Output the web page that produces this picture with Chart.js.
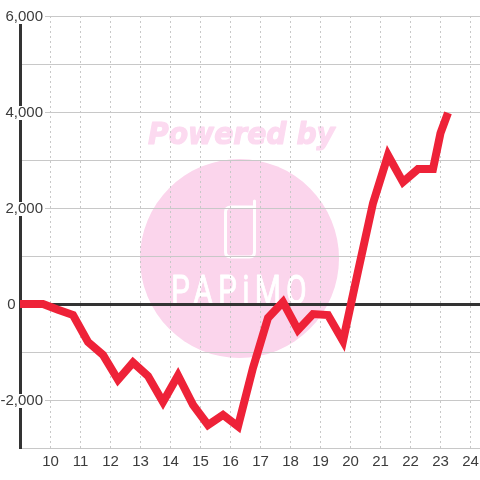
<!DOCTYPE html>
<html><head><meta charset="utf-8">
<style>html,body{margin:0;padding:0;background:#fff}#w{width:480px;height:480px}</style>
<script src="https://cdn.jsdelivr.net/npm/chart.js@4"></script>
</head><body><div id="w"><canvas id="c" width="480" height="480"></canvas></div>
<script>
const hours = [8.75,9.25,9.75,10.25,10.75,11.25,11.75,12.25,12.75,13.25,13.75,14.25,14.75,15.25,15.75,16.25,16.75,17.25,17.75,18.25,18.75,19.25,19.75,20.25,20.75,21.25,21.75,22.25,22.75,23,23.25];
const values = [0,0,0,-120,-230,-790,-1060,-1580,-1220,-1500,-2040,-1490,-2100,-2520,-2310,-2550,-1330,-290,40,-540,-210,-230,-770,680,2100,3100,2540,2810,2810,3560,3980];
const watermarkTitle = 'Powered by';
const watermarkBrand = 'PAPiMO';

const watermark = {
  id: 'watermark',
  beforeDraw(chart) {
    const c = chart.ctx;
    c.save();
    c.fillStyle = '#fbd5ec';
    c.beginPath(); c.arc(239.5, 258.5, 99.5, 0, Math.PI * 2); c.fill();
    c.font = 'italic bold 30px "DejaVu Sans"';
    c.textAlign = 'left'; c.textBaseline = 'alphabetic';
    c.fillStyle = '#fcdaf0';
    c.strokeStyle = '#fcdaf0'; c.lineWidth = 1.2; c.lineJoin = 'round';
    const w = c.measureText(watermarkTitle).width;
    c.save(); c.translate(148, 144); c.scale(187 / w, 1); c.fillText(watermarkTitle, 0, 0); c.strokeText(watermarkTitle, 0, 0); c.restore();
    c.strokeStyle = '#ffffff'; c.lineWidth = 3; c.lineJoin = 'round'; c.lineCap = 'round';
    c.beginPath();
    c.moveTo(254.5, 201);
    c.lineTo(254.5, 252);
    c.quadraticCurveTo(254.5, 257, 249.5, 257);
    c.lineTo(231, 257);
    c.quadraticCurveTo(225.5, 257, 225.5, 252);
    c.lineTo(225.5, 212);
    c.quadraticCurveTo(225.5, 207, 231, 207);
    c.lineTo(254, 207);
    c.stroke();
    c.fillStyle = '#ffffff';
    c.strokeStyle = '#ffffff'; c.lineWidth = 0.8;
    c.font = '400 40px Roboto';
    try { c.letterSpacing = '7px'; } catch (e) {}
    const bw = c.measureText(watermarkBrand).width;
    c.save(); c.translate(171, 304); c.scale(141 / bw, 1); c.fillText(watermarkBrand, 0, 0); c.strokeText(watermarkBrand, 0, 0); c.restore();
    c.restore();
  }
};

new Chart(document.getElementById('c'), {
  type: 'line',
  plugins: [watermark],
  data: { datasets: [{
    data: hours.map((h, i) => ({ x: h, y: values[i] })),
    borderColor: '#ee2238',
    borderWidth: 8,
    tension: 0,
    pointRadius: 0,
    fill: false,
    borderJoinStyle: 'miter'
  }]},
  options: {
    responsive: false,
    animation: false,
    layout: { padding: { top: 16, left: 0, right: 0, bottom: 0 } },
    plugins: { legend: { display: false }, tooltip: { enabled: false } },
    scales: {
      x: {
        type: 'linear',
        min: 8.983,
        max: 24.317,
        afterFit(s) { s.height = 32; s.paddingRight = 0; s.paddingLeft = 0; },
        grid: {
          drawTicks: false,
          color: ctx => ctx.tick && ctx.tick.value === 9 ? 'transparent' : '#c8c8c8',
          lineWidth: 1,
        },
        border: { display: false, dash: [2, 3] },
        ticks: {
          stepSize: 1,
          includeBounds: false,
          autoSkip: false,
          maxRotation: 0,
          padding: 5,
          color: '#3c3c3c',
          font: { family: '"Liberation Sans"', size: 15 },
          callback: v => v === 9 ? '' : String(v)
        }
      },
      y: {
        min: -3000,
        max: 6000,
        afterFit(s) { s.width = 20; s._computeLabelArea = () => undefined; },
        border: { color: '#333', width: 3 },
        grid: {
          drawTicks: false,
          color: ctx => ctx.tick && ctx.tick.value === 0 ? '#333' : '#c8c8c8',
          lineWidth: ctx => ctx.tick && ctx.tick.value === 0 ? 3 : 1,
        },
        ticks: {
          stepSize: 1000,
          autoSkip: false,
          padding: -23,
          labelOffset: 1,
          color: '#3c3c3c',
          font: { family: '"Liberation Sans"', size: 15, lineHeight: 14 / 15 },
          showLabelBackdrop: true,
          backdropPadding: { left: 2, right: 2, top: 0, bottom: 0 },
          backdropColor: ctx => (ctx.tick && ctx.tick.value !== 0 && ctx.tick.value % 2000 === 0) ? '#fff' : 'rgba(0,0,0,0)',
          callback: v => v === 0 ? '0      \u200a\u200a' : (v % 2000 === 0 ? v.toLocaleString('en-US') : '')
        }
      }
    }
  }
});
</script></body></html>
